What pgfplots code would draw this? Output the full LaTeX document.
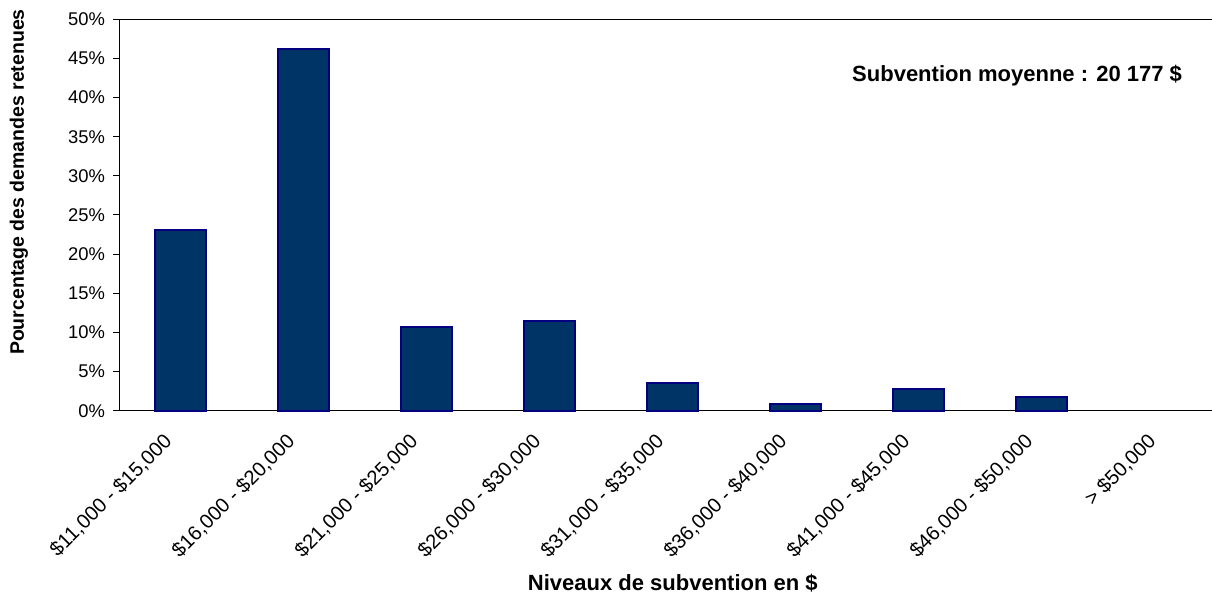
\documentclass[border=0pt]{standalone}
\usepackage{fontspec}
\setmainfont{Liberation Sans}
\usepackage{pgfplots}
\pgfplotsset{compat=1.18}
\definecolor{barfill}{HTML}{003366}
\definecolor{baredge}{HTML}{000080}
\begin{document}
\begin{tikzpicture}[x=1pt,y=1pt]
\begin{axis}[
  at={(59.65pt,91.15pt)}, anchor=south west,
  scale only axis, width=553.5pt, height=195.7pt,
  xmin=0, xmax=9, ymin=0, ymax=50,
  ytick={0,5,...,50},
  yticklabel={\pgfmathprintnumber{\tick}\%},
  xtick={0.5,1.5,...,8.5},
  xticklabels={{\$11,000 - \$15,000},{\$16,000 - \$20,000},{\$21,000 - \$25,000},{\$26,000 - \$30,000},{\$31,000 - \$35,000},{\$36,000 - \$40,000},{\$41,000 - \$45,000},{\$46,000 - \$50,000},{> \$50,000}},
  xtick style={draw=none},
  minor xtick={0,1,...,9},
  tick align=outside,
  major tick length=3pt, minor tick length=3pt,
  tick style={black, line width=0.5pt},
  axis line style={black, line width=0.6pt},
  /pgf/number format/assume math mode=true,
  yticklabel style={font=\fontsize{9.2}{11}\selectfont, inner sep=2pt, xshift=-2pt},
  xticklabel style={font=\fontsize{10.1}{12}\selectfont, xshift=-9.3pt, yshift=-5.9pt, rotate=45, anchor=north east, inner sep=1pt},
  xlabel={\textbf{Niveaux de subvention en \$}},
  xlabel style={font=\fontsize{11}{13}\selectfont, at={(axis description cs:0.5,0)}, anchor=base, yshift=-90.15pt},
  ylabel={\textbf{Pourcentage des demandes retenues}},
  ylabel style={font=\fontsize{9.75}{12}\selectfont, at={(axis description cs:0,0.584)}, anchor=center, yshift=50.15pt},
  ybar, bar width=25.5pt,
  clip=false,
]
\addplot[ybar, fill=barfill, draw=baredge, line width=1pt] coordinates {
 (0.5,23.1) (1.5,46.15) (2.5,10.65) (3.5,11.45) (4.5,3.6) (5.5,0.9) (6.5,2.72) (7.5,1.8)
};
\node[font=\bfseries\fontsize{11}{13}\selectfont, anchor=base] at (rel axis cs:0.811,0.842) {Subvention moyenne : 20 177 \$};
\end{axis}
\pgfresetboundingbox
\useasboundingbox (0,0) rectangle (606,296.5);
\end{tikzpicture}
\end{document}
